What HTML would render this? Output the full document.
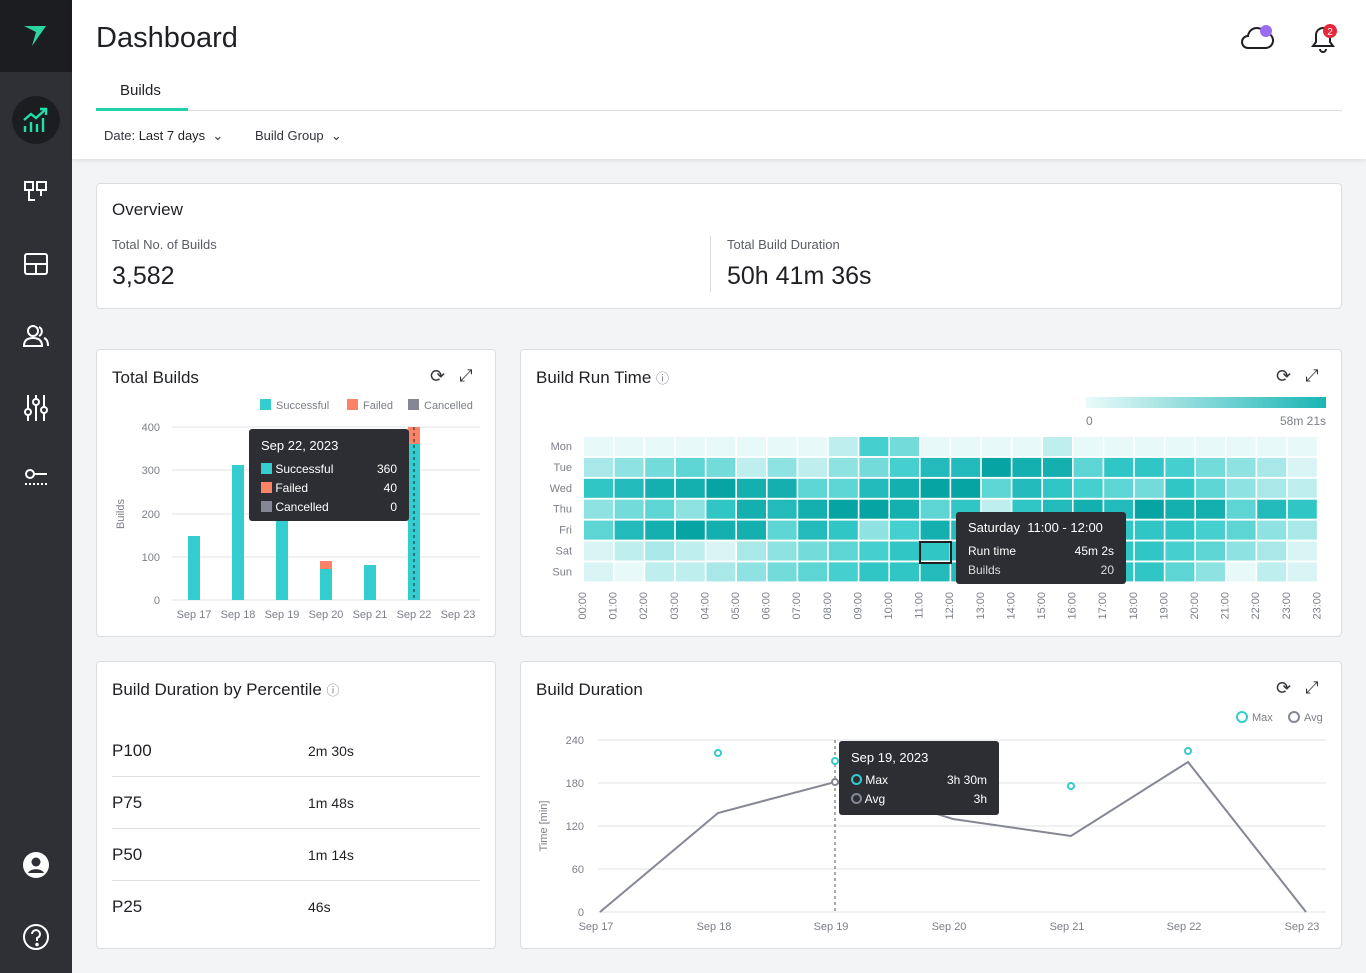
<!DOCTYPE html>
<html><head><meta charset="utf-8"><style>
*{box-sizing:border-box;margin:0;padding:0}
body{width:1366px;height:973px;background:#f3f4f6;font-family:"Liberation Sans",sans-serif;color:#1f2024;position:relative;overflow:hidden}
.abs{position:absolute}
.side{left:0;top:0;width:72px;height:973px;background:#2e3036}
.card{background:#fff;border:1px solid #dcdde1;border-radius:4px;position:absolute}
.t{position:absolute;white-space:nowrap}
.g{color:#7c7f88;font-size:11px}
.tip{background:#2c2e33;border-radius:3px;color:#fff;position:absolute;font-size:12px}
</style></head><body>
<div class="abs side"></div>
<div class="abs" style="left:0;top:0;width:72px;height:72px;background:#1c1d21"></div>
<svg class="abs" style="left:22px;top:24px" width="28" height="24"><polygon points="2,2 24,2 10,22 14,8" fill="#2bd6a0"/></svg>
<div class="abs" style="left:12px;top:96px;width:48px;height:48px;border-radius:50%;background:#1c1d21"></div>
<svg class="abs" style="left:22px;top:106px" width="28" height="28" fill="none" stroke="#1fe0a8" stroke-width="2.4"><polyline points="2,14 9,8 14,12 24,3"/><polyline points="18,3 24,3 24,9"/><line x1="3" y1="26" x2="3" y2="20"/><line x1="9" y1="26" x2="9" y2="16"/><line x1="15" y1="26" x2="15" y2="18"/><line x1="21" y1="26" x2="21" y2="12"/></svg>
<svg class="abs" style="left:24px;top:180px" width="24" height="24" fill="none" stroke="#fff" stroke-width="2"><rect x="1" y="2" width="8" height="8"/><rect x="13" y="2" width="9" height="8"/><path d="M5 10v10h6M17 10v6"/></svg>
<svg class="abs" style="left:24px;top:252px" width="24" height="24" fill="none" stroke="#fff" stroke-width="2"><rect x="1" y="2" width="22" height="20" rx="2"/><line x1="1" y1="12" x2="23" y2="12"/><line x1="12" y1="12" x2="12" y2="22"/></svg>
<svg class="abs" style="left:22px;top:324px" width="28" height="24" fill="none" stroke="#fff" stroke-width="2"><circle cx="11" cy="7" r="5"/><path d="M2 22c0-6 4-8 9-8s9 2 9 8z"/><path d="M17 3a5 5 0 0 1 0 9M22 14c3 1 4 4 4 8"/></svg>
<svg class="abs" style="left:24px;top:394px" width="24" height="28" fill="none" stroke="#fff" stroke-width="2"><line x1="4" y1="1" x2="4" y2="27"/><line x1="12" y1="1" x2="12" y2="27"/><line x1="20" y1="1" x2="20" y2="27"/><circle cx="4" cy="18" r="3" fill="#2e3036"/><circle cx="12" cy="8" r="3" fill="#2e3036"/><circle cx="20" cy="16" r="3" fill="#2e3036"/></svg>
<svg class="abs" style="left:24px;top:468px" width="24" height="20" fill="none" stroke="#fff" stroke-width="2"><circle cx="6" cy="6" r="4"/><line x1="10" y1="6" x2="23" y2="6"/><line x1="1" y1="16" x2="23" y2="16" stroke-dasharray="2 2"/></svg>
<svg class="abs" style="left:22px;top:851px" width="28" height="28"><circle cx="14" cy="14" r="13" fill="#fff"/><circle cx="14" cy="11" r="4.5" fill="#2e3036"/><path d="M6 22c2-5 14-5 16 0" fill="#2e3036"/></svg>
<svg class="abs" style="left:22px;top:923px" width="28" height="28" fill="none" stroke="#fff" stroke-width="2"><circle cx="14" cy="14" r="12"/><path d="M10 11a4 4 0 1 1 5 4v3"/><circle cx="15" cy="21.5" r=".8" fill="#fff"/></svg>

<div class="abs" style="left:72px;top:0;width:1294px;height:159px;background:#fff;box-shadow:0 2px 4px rgba(0,0,0,.08)"></div>
<div class="t" style="left:96px;top:22px;font-size:29px;color:#1f2024">Dashboard</div>
<div class="t" style="left:120px;top:82px;font-size:15px">Builds</div>
<div class="abs" style="left:96px;top:108px;width:92px;height:3px;background:#1fd3a8"></div>
<div class="abs" style="left:188px;top:110px;width:1154px;height:1px;background:#dcdde1"></div>
<div class="t" style="left:104px;top:128px;font-size:13px;color:#33353b">Date: <b style="font-weight:normal;color:#1f2024">Last 7 days</b> &nbsp;⌄</div>
<div class="t" style="left:255px;top:128px;font-size:13px;color:#33353b">Build Group &nbsp;⌄</div>
<svg class="abs" style="left:1240px;top:22px" width="36" height="30" fill="none" stroke="#1f2024" stroke-width="2"><path d="M8 26a6 6 0 0 1 0-12 9 9 0 0 1 17-3 7 7 0 0 1 1 15z"/><circle cx="26" cy="9" r="6" fill="#9a6cf0" stroke="none"/></svg>
<svg class="abs" style="left:1308px;top:22px" width="30" height="32" fill="none" stroke="#1f2024" stroke-width="2"><path d="M5 24h20l-3-4v-7a7 7 0 0 0-14 0v7z"/><path d="M12 27a3 3 0 0 0 6 0"/><circle cx="22" cy="9" r="7" fill="#e8283a" stroke="none"/><text x="22" y="13" font-size="10" fill="#fff" stroke="none" text-anchor="middle" font-family="Liberation Sans">2</text></svg>

<div class="card" style="left:96px;top:183px;width:1246px;height:126px"></div>
<div class="t" style="left:112px;top:200px;font-size:17px">Overview</div>
<div class="t" style="left:112px;top:237px;font-size:13px;color:#5a5d66">Total No. of Builds</div>
<div class="t" style="left:112px;top:262px;font-size:25px">3,582</div>
<div class="abs" style="left:710px;top:236px;width:1px;height:56px;background:#dcdde1"></div>
<div class="t" style="left:727px;top:237px;font-size:13px;color:#5a5d66">Total Build Duration</div>
<div class="t" style="left:727px;top:262px;font-size:25px">50h 41m 36s</div>

<div class="card" style="left:96px;top:349px;width:400px;height:288px"></div>
<div class="t" style="left:112px;top:368px;font-size:17px">Total Builds</div>
<div class="t" style="left:430px;top:366px;font-size:18px;color:#33353b">⟳</div>
<div class="t" style="left:459px;top:366px;font-size:17px;color:#33353b">⤢</div>
<svg class="abs" style="left:96px;top:390px" width="400" height="240" font-family="Liberation Sans" font-size="11" fill="#7c7f88">
<rect x="164" y="9" width="11" height="11" fill="#33cccf"/><text x="180" y="19">Successful</text>
<rect x="251" y="9" width="11" height="11" fill="#fb8466"/><text x="267" y="19">Failed</text>
<rect x="312" y="9" width="11" height="11" fill="#858894"/><text x="328" y="19">Cancelled</text>
<g stroke="#e2e3e7"><line x1="76" y1="37" x2="384" y2="37"/><line x1="76" y1="80" x2="384" y2="80"/><line x1="76" y1="124" x2="384" y2="124"/><line x1="76" y1="167" x2="384" y2="167"/><line x1="76" y1="210" x2="384" y2="210"/></g>
<g text-anchor="end"><text x="64" y="41">400</text><text x="64" y="84">300</text><text x="64" y="128">200</text><text x="64" y="171">100</text><text x="64" y="214">0</text></g>
<text transform="translate(28,124) rotate(-90)" text-anchor="middle">Builds</text>
<g fill="#33cccf"><rect x="92" y="146" width="12" height="64"/><rect x="136" y="75" width="12" height="135"/><rect x="180" y="100" width="12" height="110"/><rect x="224" y="179" width="12" height="31"/><rect x="268" y="175" width="12" height="35"/><rect x="312" y="54" width="12" height="156"/></g>
<rect x="224" y="171" width="12" height="8" fill="#fb8466"/><rect x="312" y="37" width="12" height="17" fill="#fb8466"/>
<line x1="318" y1="37" x2="318" y2="210" stroke="#222" stroke-dasharray="3 3"/>
<g text-anchor="middle"><text x="98" y="228">Sep 17</text><text x="142" y="228">Sep 18</text><text x="186" y="228">Sep 19</text><text x="230" y="228">Sep 20</text><text x="274" y="228">Sep 21</text><text x="318" y="228">Sep 22</text><text x="362" y="228">Sep 23</text></g>
</svg>
<div class="tip" style="left:249px;top:429px;width:160px;height:92px">
<div class="t" style="left:12px;top:9px;font-size:13px">Sep 22, 2023</div>
<div class="t" style="left:12px;top:33px"><span style="display:inline-block;width:11px;height:11px;background:#33cccf;vertical-align:-1px"></span> Successful</div><div class="t" style="right:12px;top:33px">360</div>
<div class="t" style="left:12px;top:52px"><span style="display:inline-block;width:11px;height:11px;background:#fb8466;vertical-align:-1px"></span> Failed</div><div class="t" style="right:12px;top:52px">40</div>
<div class="t" style="left:12px;top:71px"><span style="display:inline-block;width:11px;height:11px;background:#858894;vertical-align:-1px"></span> Cancelled</div><div class="t" style="right:12px;top:71px">0</div>
</div>

<div class="card" style="left:520px;top:349px;width:822px;height:288px"></div>
<div class="t" style="left:536px;top:368px;font-size:17px">Build Run Time <span style="font-size:13px;color:#7c7f88">ⓘ</span></div>
<div class="t" style="left:1276px;top:366px;font-size:18px;color:#33353b">⟳</div>
<div class="t" style="left:1305px;top:366px;font-size:17px;color:#33353b">⤢</div>
<div class="abs" style="left:1086px;top:397px;width:240px;height:11px;background:linear-gradient(90deg,#eafafa,#1ab5b5)"></div>
<div class="t g" style="left:1086px;top:414px;font-size:12px">0</div>
<div class="t g" style="left:1280px;top:414px;font-size:12px">58m 21s</div>
<svg id="hm" class="abs" style="left:520px;top:430px" width="820" height="200" font-family="Liberation Sans" font-size="11" fill="#7c7f88"></svg>
<div class="tip" style="left:956px;top:512px;width:170px;height:72px">
<div class="t" style="left:12px;top:8px;font-size:13px">Saturday&nbsp; 11:00 - 12:00</div>
<div class="t" style="left:12px;top:32px">Run time</div><div class="t" style="right:12px;top:32px">45m 2s</div>
<div class="t" style="left:12px;top:51px;color:#ddd">Builds</div><div class="t" style="right:12px;top:51px;color:#ddd">20</div>
</div>

<div class="card" style="left:96px;top:661px;width:400px;height:288px"></div>
<div class="t" style="left:112px;top:680px;font-size:17px">Build Duration by Percentile <span style="font-size:13px;color:#7c7f88">ⓘ</span></div>
<div class="t" style="left:112px;top:741px;font-size:17px">P100</div><div class="t" style="left:308px;top:743px;font-size:14px">2m 30s</div>
<div class="abs" style="left:112px;top:776px;width:368px;height:1px;background:#dcdde1"></div>
<div class="t" style="left:112px;top:793px;font-size:17px">P75</div><div class="t" style="left:308px;top:795px;font-size:14px">1m 48s</div>
<div class="abs" style="left:112px;top:828px;width:368px;height:1px;background:#dcdde1"></div>
<div class="t" style="left:112px;top:845px;font-size:17px">P50</div><div class="t" style="left:308px;top:847px;font-size:14px">1m 14s</div>
<div class="abs" style="left:112px;top:880px;width:368px;height:1px;background:#dcdde1"></div>
<div class="t" style="left:112px;top:897px;font-size:17px">P25</div><div class="t" style="left:308px;top:899px;font-size:14px">46s</div>

<div class="card" style="left:520px;top:661px;width:822px;height:288px"></div>
<div class="t" style="left:536px;top:680px;font-size:17px">Build Duration</div>
<div class="t" style="left:1276px;top:678px;font-size:18px;color:#33353b">⟳</div>
<div class="t" style="left:1305px;top:678px;font-size:17px;color:#33353b">⤢</div>
<svg class="abs" style="left:520px;top:700px" width="822" height="240" font-family="Liberation Sans" font-size="11" fill="#7c7f88">
<circle cx="722" cy="17" r="5" fill="none" stroke="#33cccf" stroke-width="2"/><text x="732" y="21">Max</text>
<circle cx="774" cy="17" r="5" fill="none" stroke="#858894" stroke-width="2"/><text x="784" y="21">Avg</text>
<g stroke="#e2e3e7"><line x1="78" y1="40" x2="806" y2="40"/><line x1="78" y1="83" x2="806" y2="83"/><line x1="78" y1="126" x2="806" y2="126"/><line x1="78" y1="169" x2="806" y2="169"/><line x1="78" y1="212" x2="806" y2="212"/></g>
<g text-anchor="end"><text x="64" y="44">240</text><text x="64" y="87">180</text><text x="64" y="130">120</text><text x="64" y="173">60</text><text x="64" y="216">0</text></g>
<text transform="translate(27,126) rotate(-90)" text-anchor="middle">Time [min]</text>
<polyline points="80,212 198,113 315,82 433,119 551,136 668,62 786,212" fill="none" stroke="#858894" stroke-width="2"/>
<line x1="315" y1="40" x2="315" y2="212" stroke="#555" stroke-dasharray="3 3"/>
<g fill="#fff" stroke="#33cccf" stroke-width="2"><circle cx="198" cy="53" r="3"/><circle cx="315" cy="61" r="3"/><circle cx="551" cy="86" r="3"/><circle cx="668" cy="51" r="3"/></g>
<circle cx="315" cy="82" r="3" fill="#fff" stroke="#858894" stroke-width="2"/>
<g text-anchor="middle"><text x="76" y="230">Sep 17</text><text x="194" y="230">Sep 18</text><text x="311" y="230">Sep 19</text><text x="429" y="230">Sep 20</text><text x="547" y="230">Sep 21</text><text x="664" y="230">Sep 22</text><text x="782" y="230">Sep 23</text></g>
</svg>
<div class="tip" style="left:839px;top:741px;width:160px;height:74px">
<div class="t" style="left:12px;top:9px;font-size:13px">Sep 19, 2023</div>
<div class="t" style="left:12px;top:32px"><span style="display:inline-block;width:11px;height:11px;border:2px solid #33cccf;border-radius:50%;vertical-align:-1px"></span> Max</div><div class="t" style="right:12px;top:32px">3h 30m</div>
<div class="t" style="left:12px;top:51px"><span style="display:inline-block;width:11px;height:11px;border:2px solid #858894;border-radius:50%;vertical-align:-1px"></span> Avg</div><div class="t" style="right:12px;top:51px">3h</div>
</div>
<script>
var d=[
[0,0,0,0,0,0,0,0,2,7,5,0,0,0,0,2,0,0,0,0,0,0,0,0],
[3,4,5,6,5,2,4,2,4,5,7,9,9,11,10,10,6,8,8,7,5,4,3,1],
[8,9,10,10,11,10,10,6,6,9,10,11,11,6,9,8,7,6,5,8,6,4,3,2],
[4,5,6,4,8,10,9,10,11,11,10,6,8,2,8,9,10,9,11,10,10,6,9,8],
[6,9,10,11,10,10,6,9,8,4,7,10,9,8,8,8,8,8,8,8,7,6,4,3],
[1,2,3,2,1,3,4,5,6,7,8,8,8,8,8,8,8,8,8,7,6,4,3,1],
[1,0,2,2,3,4,5,6,7,8,8,9,9,9,9,9,8,8,8,6,4,0,2,1]];
var c=["#e8f9f9","#d8f4f4","#bfeeee","#a8e8e8","#8fe2e2","#74dbdb","#5dd5d5","#45cfcf","#30c6c6","#22baba","#14afaf","#07a4a4"];
var days=["Mon","Tue","Wed","Thu","Fri","Sat","Sun"],s="";
for(var r=0;r<7;r++){s+='<text x="52" y="'+(20+r*20.9)+'" text-anchor="end">'+days[r]+'</text>';
for(var k=0;k<24;k++)s+='<rect x="'+(64+k*30.6)+'" y="'+(7+r*20.9)+'" width="29" height="19" fill="'+c[d[r][k]]+'"/>';}
for(var k=0;k<25;k++){var x=66+k*30.6,h=(k>23?23:k);s+='<text transform="translate('+x+',162) rotate(-90)" text-anchor="end">'+(h<10?'0'+h:h)+':00</text>';}
s+='<rect x="400" y="112" width="31" height="21" fill="none" stroke="#1f2024" stroke-width="2"/>';
document.getElementById("hm").innerHTML=s;
</script>
</body></html>
